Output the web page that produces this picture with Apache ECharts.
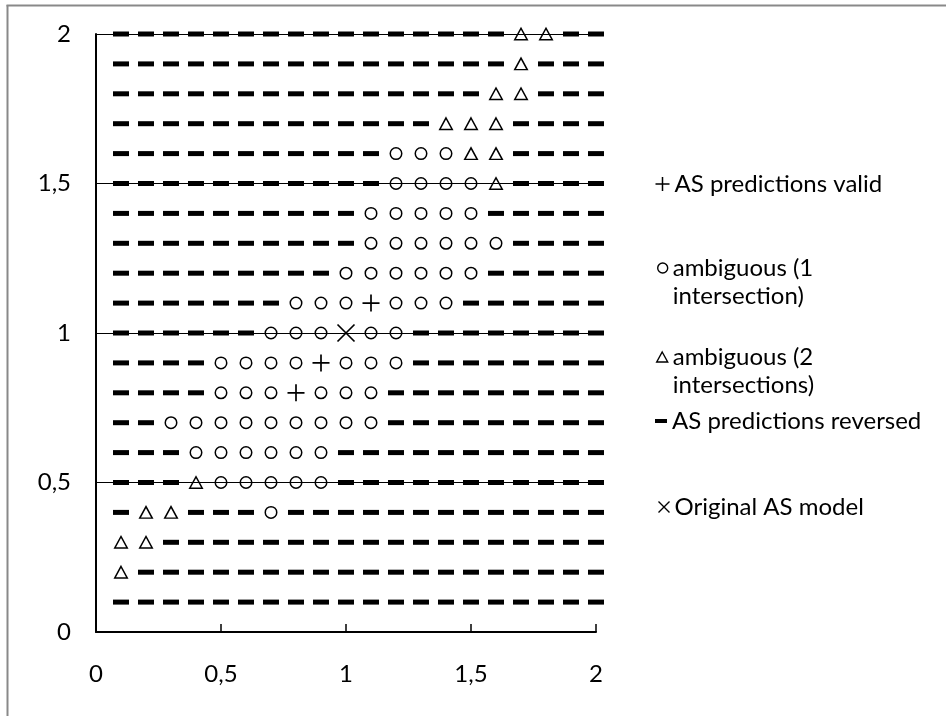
<!DOCTYPE html>
<html>
<head>
<meta charset="utf-8">
<script src="https://cdn.jsdelivr.net/npm/echarts@6/dist/echarts.min.js"></script>
<style>
html,body{margin:0;padding:0;background:#fff;}
#chart{width:946px;height:716px;}
</style>
</head>
<body>
<div id="chart"></div>
<script>
// x positions of the grid columns
const xValues = [0.1, 0.2, 0.3, 0.4, 0.5, 0.6, 0.7, 0.8, 0.9, 1.0,
                 1.1, 1.2, 1.3, 1.4, 1.5, 1.6, 1.7, 1.8, 1.9, 2.0];
// y positions of the grid rows (top to bottom)
const yValues = [2.0, 1.9, 1.8, 1.7, 1.6, 1.5, 1.4, 1.3, 1.2, 1.1,
                 1.0, 0.9, 0.8, 0.7, 0.6, 0.5, 0.4, 0.3, 0.2, 0.1];
// outcome read for each cell: '-' reversed, 'o' ambiguous 1, 't' ambiguous 2, '+' valid, 'x' original
const rowCodes = [
  "----------------tt--",
  "----------------t---",
  "---------------tt---",
  "-------------ttt----",
  "-----------ooott----",
  "-----------oooot----",
  "----------ooooo-----",
  "----------oooooo----",
  "---------oooooo-----",
  "-------ooo+ooo------",
  "------oooxoo--------",
  "----oooo+ooo--------",
  "----ooo+ooo---------",
  "--ooooooooo---------",
  "---oooooo-----------",
  "---tooooo-----------",
  "-tt---o-------------",
  "tt------------------",
  "t-------------------",
  "--------------------"
];
const seriesNames = ["AS predictions valid", "ambiguous (1 intersection)", "ambiguous (2 intersections)", "AS predictions reversed", "Original AS model"];
const codeOf = {"+": 0, "o": 1, "t": 2, "-": 3, "x": 4};

const pts = seriesNames.map(() => []);
rowCodes.forEach((row, i) => {
  for (let j = 0; j < row.length; j++) {
    const k = codeOf[row[j]];
    if (k !== undefined) pts[k].push([xValues[j], yValues[i]]);
  }
});

const FONT = 'Lato';
const FS = 24;
const hollow = {color: 'rgba(0,0,0,0)', borderColor: '#000', borderWidth: 1.5, opacity: 1};
const stroked = {color: 'none', borderColor: '#000', borderWidth: 1.7, opacity: 1};
const solid = {color: '#000', opacity: 1};
const PLUS = 'path://M8,0L8,16M0,8L16,8';
const CROSS = 'path://M0,0L16,16M16,0L0,16';
const fmt = v => String(v).replace('.', ',');

const symbolDefs = [
  {symbol: PLUS, symbolSize: 17, itemStyle: stroked},
  {symbol: 'circle', symbolSize: 11.5, itemStyle: hollow},
  {symbol: 'triangle', symbolSize: [12.5, 11.5], itemStyle: hollow},
  {symbol: 'rect', symbolSize: [16, 5], itemStyle: solid},
  {symbol: CROSS, symbolSize: 17, itemStyle: stroked}
];

const series = seriesNames.map((n, k) => Object.assign({
  type: 'scatter', name: n, data: pts[k], z: k === 3 ? 2 : 3,
  emphasis: {disabled: true}
}, symbolDefs[k]));

const legendBase = {
  orient: 'vertical', padding: 0, selectedMode: false,
  textStyle: {fontFamily: FONT, fontSize: FS, color: '#000', lineHeight: 28}
};
function mkLegend(name, top, left, icon, w, h, itemStyle, twoLine) {
  const l = Object.assign({}, legendBase, {
    top: top, left: left, itemWidth: w, itemHeight: h,
    data: [{name: name, icon: icon, itemStyle: itemStyle}]
  });
  if (twoLine) {
    // blank first line so the icon lines up with the first text line
    l.formatter = s => '\n' + s.replace(' intersection', '\nintersection');
  }
  return l;
}

const option = {
  animation: false,
  backgroundColor: '#fff',
  grid: {left: 96, right: 350, top: 34, bottom: 84, containLabel: false},
  xAxis: {
    type: 'value', min: 0, max: 2, interval: 0.5,
    axisLine: {show: true, onZero: false, lineStyle: {color: '#000', width: 2}},
    axisTick: {show: true, inside: true, length: 8, lineStyle: {color: '#000', width: 1.5}},
    axisLabel: {margin: 30, fontFamily: FONT, fontSize: FS, color: '#000', formatter: fmt},
    splitLine: {show: false}
  },
  yAxis: {
    type: 'value', min: 0, max: 2, interval: 0.5,
    axisLine: {show: true, onZero: false, lineStyle: {color: '#000', width: 2}},
    axisTick: {show: false},
    axisLabel: {margin: 25, fontFamily: FONT, fontSize: FS, color: '#000', formatter: fmt},
    splitLine: {show: true, lineStyle: {color: '#000', width: 1.2}}
  },
  legend: [
    mkLegend(seriesNames[0], 170, 653, PLUS, 14, 14, {color: 'none', borderColor: '#000', borderWidth: 1.5, opacity: 1}, false),
    mkLegend(seriesNames[1], 226, 657, 'circle', 10, 10, {color: 'rgba(0,0,0,0)', borderColor: '#000', borderWidth: 1.4, opacity: 1}, true),
    mkLegend(seriesNames[2], 315, 656, 'triangle', 11, 10, {color: 'rgba(0,0,0,0)', borderColor: '#000', borderWidth: 1.4, opacity: 1}, true),
    mkLegend(seriesNames[3], 407, 655, 'rect', 12, 4, solid, false),
    mkLegend(seriesNames[4], 493, 656, CROSS, 11, 11, {color: 'none', borderColor: '#000', borderWidth: 1.4, opacity: 1}, false)
  ],
  graphic: [
    {type: 'line', shape: {x1: 7.5, y1: 5, x2: 7.5, y2: 716}, style: {stroke: '#898989', lineWidth: 2}, silent: true},
    {type: 'line', shape: {x1: 6.5, y1: 5.5, x2: 946, y2: 5.5}, style: {stroke: '#898989', lineWidth: 2}, silent: true}
  ],
  series: series
};

const chart = echarts.init(document.getElementById('chart'), null, {renderer: 'canvas'});
chart.setOption(option);
</script>
</body>
</html>
